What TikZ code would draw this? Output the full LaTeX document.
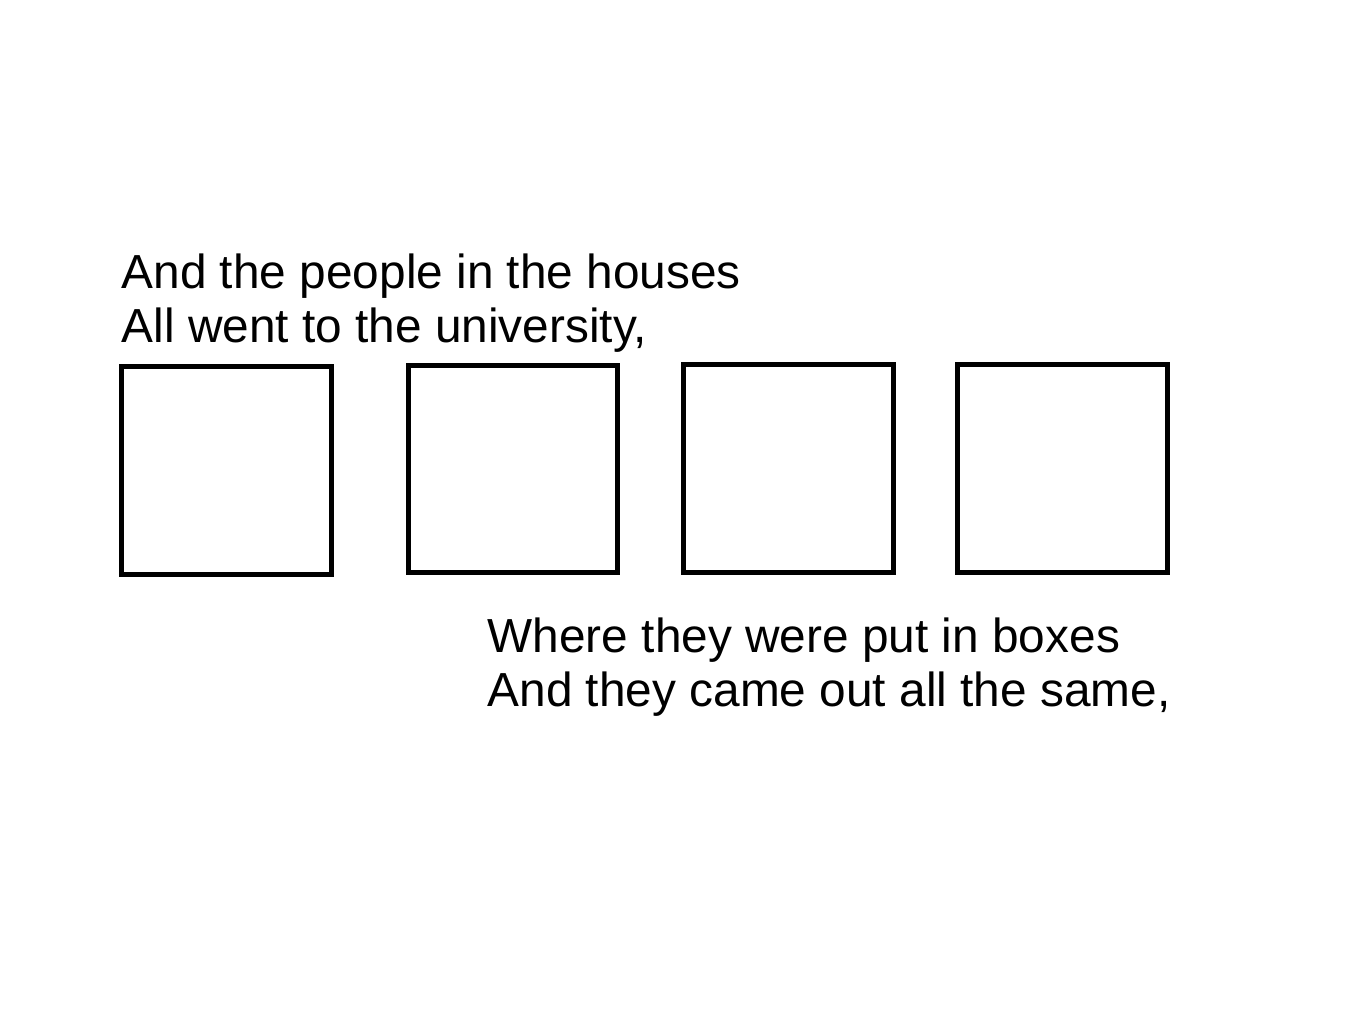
\documentclass[tikz,border=0pt]{standalone}
\usepackage{fontspec}
\setmainfont{Liberation Sans}
\usepackage{tikz}
\tikzset{verse/.style={anchor=base west, inner sep=0pt, font=\fontsize{13.6pt}{15.4pt}\selectfont}}

\begin{document}
\begin{tikzpicture}
			%%%%% START %%%%%
			
			\useasboundingbox[fill=white] (0, 0) rectangle (13.66, -10.24);
			
			\node[verse] (houses) at (1.21, -2.88) {And the people in the houses};
			\node[verse] (univ) at (1.21, -3.42) {All went to the university,};
			
			\draw[line width=0.5mm] (1.215, -3.665) rectangle (3.315, -5.745);
			\draw[line width=0.5mm] (4.08, -3.65) rectangle (6.17, -5.72);
			\draw[line width=0.5mm] (6.835, -3.645) rectangle (8.935, -5.72);
			\draw[line width=0.5mm] (9.575, -3.645) rectangle (11.67, -5.72);
			
			\node[verse] (boxes) at (4.87, -6.52) {Where they were put in boxes};
			\node[verse] (same) at (4.87, -7.06) {And they came out all the same,};
			
			%%%%% END %%%%%
		\end{tikzpicture}
\end{document}
